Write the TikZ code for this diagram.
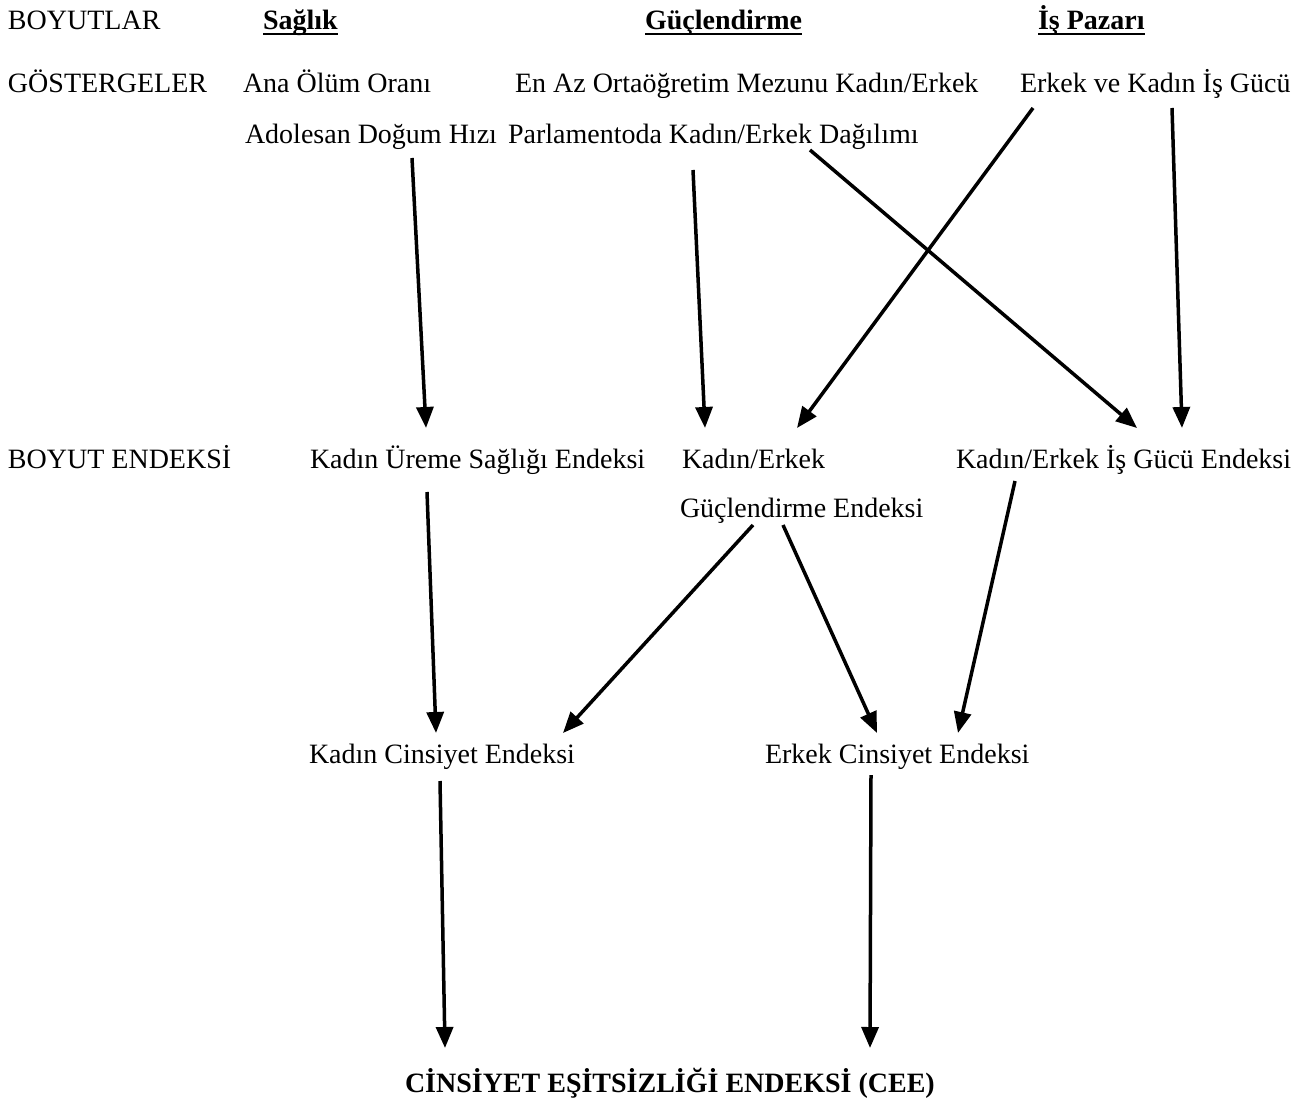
\documentclass[tikz,border=0pt]{standalone}
\usepackage{fontspec}
\setmainfont{Liberation Serif}
\usepackage{tikz}
\usetikzlibrary{arrows.meta}

\newcommand{\ulbold}[1]{\setbox0\hbox{\textbf{#1}}\rlap{\raisebox{-5pt}{\rule{\wd0}{2.4pt}}}\box0}

\begin{document}
\begin{tikzpicture}[x=1pt, y=-1pt,
  every node/.style={font=\fontsize{28}{34}\selectfont, anchor=base west, inner sep=0pt, outer sep=0pt, text height=20pt, text depth=6pt},
  arr/.style={-{Triangle[length=21pt,width=17pt]}, line width=3.5pt}]
\useasboundingbox (0,0) rectangle (1311,1099);

% row titles
\node (boyutlar) at (8,30) {BOYUTLAR};
\node (gosterge) at (8,93) {GÖSTERGELER};
\node (boyend) at (8,468) {BOYUT ENDEKSİ};

% dimensions
\node (saglik) at (263,30) {\ulbold{Sağlık}};
\node (guclen) at (645,30) {\ulbold{Güçlendirme}};
\node (ispazar) at (1038,30) {\ulbold{İş Pazarı}};

% indicators
\node (anaolum) at (243,93) {Ana Ölüm Oranı};
\node (enaz) at (515,93) {En Az Ortaöğretim Mezunu Kadın/Erkek};
\node (erkkad) at (1020,93) {Erkek ve Kadın İş Gücü};
\node (adol) at (245,144) {Adolesan Doğum Hızı};
\node (parl) at (508,144) {Parlamentoda Kadın/Erkek Dağılımı};

% dimension indices
\node (ureme) at (310,468) {Kadın Üreme Sağlığı Endeksi};
\node (gucA) at (682,468) {Kadın/Erkek};
\node (gucB) at (680,517) {Güçlendirme Endeksi};
\node (isgucu) at (956,468) {Kadın/Erkek İş Gücü Endeksi};

% gender indices
\node (kadcins) at (309,763) {Kadın Cinsiyet Endeksi};
\node (erkcins) at (765,763) {Erkek Cinsiyet Endeksi};
\node (cee) at (405,1092) {\textbf{CİNSİYET EŞİTSİZLİĞİ ENDEKSİ (CEE)}};

\draw[arr] ([xshift=167pt,yshift=-8pt]adol.south west) -- ([xshift=116pt,yshift=20pt]ureme.north west);
\draw[arr] ([xshift=185pt,yshift=-20pt]parl.south west) -- ([xshift=23pt,yshift=20pt]gucA.north west);
\draw[arr] ([xshift=13pt,yshift=-9pt]erkkad.south west) -- ([xshift=115pt,yshift=20pt]gucA.north west);
\draw[arr] ([xshift=302pt]parl.south west) -- ([xshift=181pt,yshift=20pt]isgucu.north west);
\draw[arr] ([xshift=152pt,yshift=-9pt]erkkad.south west) -- ([xshift=226pt,yshift=20pt]isgucu.north west);

\draw[arr] ([xshift=117pt,yshift=-18pt]ureme.south west) -- ([xshift=127pt,yshift=10pt]kadcins.north west);
\draw[arr] ([xshift=73pt,yshift=-2pt]gucB.south west) -- ([xshift=254pt,yshift=10pt]kadcins.north west);
\draw[arr] ([xshift=103pt,yshift=-2pt]gucB.south west) -- ([xshift=112pt,yshift=10pt]erkcins.north west);
\draw[arr] ([xshift=59pt,yshift=-7pt]isgucu.south west) -- ([xshift=193pt,yshift=10pt]erkcins.north west);

\draw[arr] ([xshift=131pt,yshift=-12pt]kadcins.south west) -- ([xshift=40pt,yshift=24pt]cee.north west);
\draw[arr] ([xshift=106pt,yshift=-6pt]erkcins.south west) -- ([xshift=465pt,yshift=24pt]cee.north west);
\end{tikzpicture}
\end{document}
